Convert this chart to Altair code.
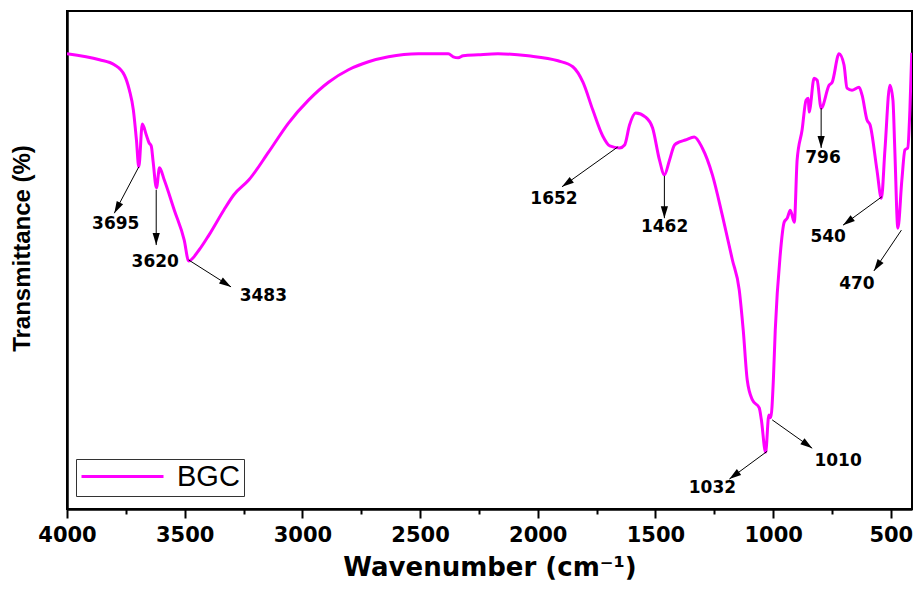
import math
import altair as alt
import pandas as pd

# ---- spectrum ----
wavenumber = [4000, 3862, 3799, 3756, 3735, 3718, 3705, 3695, 3680, 3663, 3651, 3642, 3634, 3620,
              3607, 3587, 3544, 3502, 3483, 3439, 3397, 3334, 3291, 3227, 3143, 3059, 2974, 2889,
              2804, 2719, 2634, 2507, 2380, 2359, 2338, 2317, 2253, 2169, 2041, 1914, 1851, 1808,
              1766, 1724, 1694, 1652, 1631, 1610, 1584, 1542, 1512, 1483, 1462, 1440, 1419, 1398,
              1373, 1335, 1301, 1258, 1216, 1173, 1144, 1127, 1110, 1088, 1059, 1050, 1032, 1018,
              1010, 999, 991, 970, 953, 940, 927, 910, 898, 877, 860, 851, 847, 843, 826, 813,
              796, 762, 749, 720, 699, 686, 665, 635, 622, 601, 588, 559, 540, 525, 504, 491,
              483, 470, 453, 440, 428, 419, 411]
transmittance = [91.4, 90.2, 89.2, 87.1, 84.1, 80.1, 74.1, 68.7, 77.3, 75.1, 73.5, 72.9, 69.7, 64.5,
                 68.5, 66.1, 60.0, 54.0, 49.8, 52.0, 55.0, 60.0, 63.1, 66.1, 71.7, 77.5, 82.1, 85.7,
                 88.2, 89.8, 90.8, 91.4, 91.4, 90.8, 90.6, 91.0, 91.2, 91.4, 91.0, 90.0, 88.8, 85.7,
                 80.1, 74.9, 72.9, 72.5, 73.1, 77.1, 79.5, 78.7, 76.5, 70.1, 67.1, 70.1, 73.1, 73.7,
                 74.1, 74.7, 72.5, 67.1, 59.0, 50.0, 44.0, 35.9, 25.9, 21.9, 20.3, 17.9, 11.4, 18.9,
                 18.3, 25.9, 35.9, 51.0, 57.6, 58.4, 60.0, 57.6, 70.1, 76.1, 82.1, 82.5, 79.7, 80.5,
                 86.5, 86.1, 80.5, 85.1, 85.7, 91.4, 89.2, 84.5, 84.1, 84.7, 83.1, 78.1, 77.1, 68.1,
                 62.4, 72.1, 85.1, 82.1, 72.1, 56.4, 66.1, 72.1, 72.5, 80.1, 91.6]
series_name = "BGC"

# ---- peak annotations (data units) ----
peak_labels = ["3695", "3620", "3483", "1652", "1462", "1032", "1010", "796", "540", "470"]
arrow_start_wn = [3695, 3621, 3483, 1660, 1462, 1025, 1004, 796, 538, 455]
arrow_start_t = [68.7, 64.1, 50.0, 72.7, 66.9, 11.6, 17.9, 80.5, 62.7, 56.0]
arrow_tip_wn = [3799, 3621, 3303, 1897, 1462, 1186, 834, 796, 703, 572]
arrow_tip_t = [59.4, 53.0, 44.6, 64.7, 58.4, 6.0, 12.2, 72.5, 57.0, 47.8]
label_wn = [3793, 3625, 3166, 1931, 1461, 1258, 724, 788, 766, 644]
label_t = [57.2, 49.6, 42.8, 62.2, 56.6, 4.2, 9.6, 70.5, 54.6, 45.2]

tick_values = [4000, 3750, 3500, 3250, 3000, 2750, 2500, 2250, 2000, 1750, 1500, 1250, 1000, 750, 500]

W, H = 845, 498
X_MAX, X_MIN = 4000, 410
Y_MIN, Y_MAX = 0, 100

spec_df = pd.DataFrame({"wn": wavenumber, "t": transmittance, "series": series_name})

px_x = W / (X_MAX - X_MIN)
px_y = H / (Y_MAX - Y_MIN)
angles = []
for sw, st, tw, tt in zip(arrow_start_wn, arrow_start_t, arrow_tip_wn, arrow_tip_t):
    dx = -(tw - sw) * px_x
    dy = -(tt - st) * px_y
    angles.append(math.degrees(math.atan2(dx, -dy)) % 360)

ann_df = pd.DataFrame({
    "label": peak_labels,
    "sw": arrow_start_wn, "st": arrow_start_t,
    "tw": arrow_tip_wn, "tt": arrow_tip_t,
    "lw": label_wn, "lt": label_t,
    "angle": angles,
})

x_scale = alt.Scale(domain=[X_MAX, X_MIN], zero=False, nice=False)
y_scale = alt.Scale(domain=[Y_MIN, Y_MAX], zero=False, nice=False)

x_axis = alt.Axis(
    values=tick_values, format="d",
    labelExpr="datum.value % 500 === 0 ? datum.label : ''",
    tickSize={"condition": {"test": "datum.value % 500 === 0", "value": 9}, "value": 5},
    tickWidth=2, tickColor="black", domainColor="black", domainWidth=2.5,
    labelFont="DejaVu Sans", labelFontWeight="bold", labelFontSize=21, labelColor="black",
    labelPadding=6, labelFlush=False, labelOverlap=False,
    title="Wavenumber (cm⁻¹)", titleFont="DejaVu Sans", titleFontWeight="bold",
    titleFontSize=26, titleColor="black", titlePadding=9, grid=False,
)
y_axis = alt.Axis(
    labels=False, ticks=False, domainColor="black", domainWidth=2.5, grid=False,
    title="Transmittance (%)", titleFont="Liberation Sans", titleFontWeight="bold",
    titleFontSize=24, titleColor="black", titlePadding=33, titleY=237,
)

line = alt.Chart(spec_df).mark_line(strokeWidth=3, interpolate="monotone", clip=True).encode(
    x=alt.X("wn:Q", scale=x_scale, axis=x_axis),
    y=alt.Y("t:Q", scale=y_scale, axis=y_axis),
    color=alt.Color(
        "series:N",
        scale=alt.Scale(domain=[series_name], range=["#FF00FF"]),
        legend=alt.Legend(
            title=None, orient="none", legendX=9, legendY=448,
            symbolType="stroke", symbolSize=6724, symbolStrokeWidth=3, clipHeight=27,
            padding=4, labelFont="Liberation Sans", labelFontSize=29, labelColor="black",
            labelOffset=12, labelExpr="datum.label + '\u00a0\u00a0'",
            strokeColor="#333333", fillColor="white",
        ),
    ),
)

arrows = alt.Chart(ann_df).mark_rule(color="black", strokeWidth=1).encode(
    x=alt.X("sw:Q", scale=x_scale), x2="tw:Q",
    y=alt.Y("st:Q", scale=y_scale), y2="tt:Q",
)
heads = alt.Chart(ann_df).mark_point(
    shape="M0,0L0.6,2L-0.6,2Z", filled=True, color="black", opacity=1, size=144,
).encode(
    x=alt.X("tw:Q", scale=x_scale),
    y=alt.Y("tt:Q", scale=y_scale),
    angle=alt.Angle("angle:Q", scale=None),
)
labels = alt.Chart(ann_df).mark_text(
    font="DejaVu Sans", fontWeight="bold", fontSize=17, color="black",
    align="center", baseline="middle",
).encode(
    x=alt.X("lw:Q", scale=x_scale),
    y=alt.Y("lt:Q", scale=y_scale),
    text="label:N",
)

chart = alt.layer(line, arrows, heads, labels).properties(
    width=W, height=H,
    autosize=alt.AutoSizeParams(type="none"),
    padding={"left": 59, "top": 3, "right": 1, "bottom": 72},
).configure_view(stroke="black", strokeWidth=2).configure_axis(grid=False)

chart.save("out.html", embed_options={"renderer": "svg", "actions": False})
